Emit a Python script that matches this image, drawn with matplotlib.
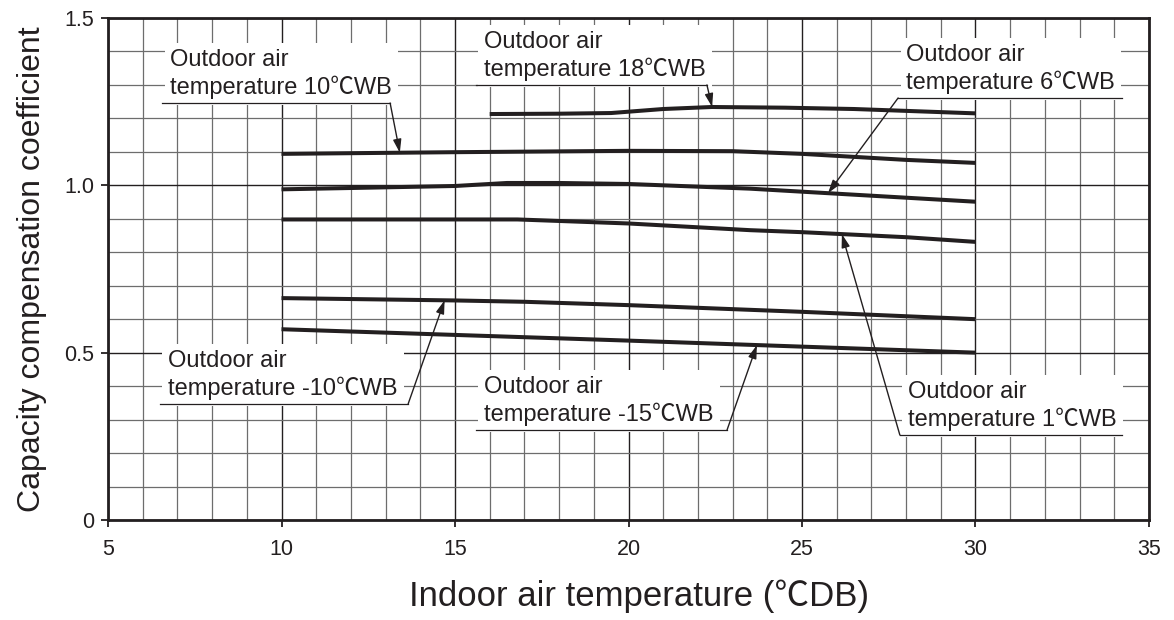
import numpy as np
import matplotlib

matplotlib.use("Agg")
import matplotlib.pyplot as plt

plt.rcParams["font.family"] = ["Liberation Sans", "Noto Sans CJK JP", "DejaVu Sans"]

INK = "#231f20"

# capacity coefficient vs indoor air temperature, one curve per outdoor temp
x_18 = [16, 18, 19.5, 21, 22.4, 24.5, 26.5, 30]
y_18 = [1.213, 1.214, 1.216, 1.228, 1.234, 1.232, 1.228, 1.215]

x_10 = [10, 15, 20, 23, 25, 28, 30]
y_10 = [1.094, 1.099, 1.103, 1.102, 1.094, 1.076, 1.067]

x_6 = [10, 15, 16.5, 18, 20, 23.5, 25, 28, 30]
y_6 = [0.988, 0.998, 1.007, 1.007, 1.004, 0.990, 0.981, 0.963, 0.951]

x_1 = [10, 16.8, 20, 23.5, 25, 28, 30]
y_1 = [0.898, 0.898, 0.886, 0.866, 0.860, 0.845, 0.831]

x_m10 = [10, 15, 17, 20, 25, 30]
y_m10 = [0.663, 0.656, 0.652, 0.642, 0.622, 0.600]

x_m15 = [10, 15, 20, 25, 30]
y_m15 = [0.570, 0.553, 0.536, 0.518, 0.500]

curves = {
    "18": (x_18, y_18),
    "10": (x_10, y_10),
    "6": (x_6, y_6),
    "1": (x_1, y_1),
    "-10": (x_m10, y_m10),
    "-15": (x_m15, y_m15),
}

# callouts: curve, underline y, underline x0/x1, leader side, arrow tip x
callouts = [
    ("10", 1.246, 6.56, 13.13, "right", 13.41),
    ("18", 1.300, 15.60, 22.26, "right", 22.41),
    ("6", 1.261, 27.77, 34.22, "left", 25.75),
    ("1", 0.254, 27.82, 34.22, "left", 26.15),
    ("-10", 0.347, 6.50, 13.65, "right", 14.70),
    ("-15", 0.269, 15.60, 22.84, "right", 23.70),
]

fig = plt.figure(figsize=(11.74, 6.2), dpi=100)
ax = fig.add_axes([0.092, 0.1613, 0.8867, 0.8097])

ax.set_xlim(5, 35)
ax.set_ylim(0, 1.5)
ax.set_xticks(np.arange(5, 36, 5))
ax.set_xticks(np.arange(5, 36, 1), minor=True)
ax.set_yticks([0, 0.5, 1.0, 1.5])
ax.set_yticklabels(["0", "0.5", "1.0", "1.5"])
ax.set_yticks(np.arange(0, 1.51, 0.1), minor=True)

ax.grid(True, which="minor", color="#6d6d6d", lw=0.9)
ax.grid(True, which="major", color=INK, lw=1.0)
ax.set_axisbelow(True)

ax.tick_params(which="major", direction="out", length=5, width=1.3,
               labelsize=15.5, colors=INK)
ax.tick_params(axis="x", which="major", pad=9)
ax.tick_params(axis="y", which="major", pad=5)
ax.tick_params(which="minor", length=0)
for s in ax.spines.values():
    s.set_linewidth(2.0)
    s.set_color(INK)

for key, (xs, ys) in curves.items():
    ax.plot(xs, ys, color=INK, lw=2.9, solid_capstyle="butt", zorder=3)

for key, uy, x0, x1, side, tip_x in callouts:
    xs, ys = curves[key]
    tip_y = np.interp(tip_x, xs, ys)
    ax.annotate(f"Outdoor air\ntemperature {key}℃WB", xy=(x0, uy),
                xytext=(6, 3), textcoords="offset points",
                ha="left", va="bottom", fontsize=17, color=INK,
                linespacing=1.25, zorder=4,
                bbox=dict(boxstyle="square,pad=0.25", fc="white", ec="none"))
    ax.plot([x0, x1], [uy, uy], color=INK, lw=0.9, zorder=5)
    start = x1 if side == "right" else x0
    ax.annotate("", xy=(tip_x, tip_y), xytext=(start, uy), zorder=5,
                arrowprops=dict(arrowstyle="-|>,head_length=0.8,head_width=0.25",
                                color=INK, lw=1.0, shrinkA=0, shrinkB=0))

ax.set_xlabel("Indoor air temperature (℃DB)", fontsize=25, color=INK)
ax.xaxis.set_label_coords(0.51, -0.118, transform=ax.transAxes)
ax.xaxis.label.set_va("top")
ax.set_ylabel("Capacity compensation coefficient", fontsize=23, color=INK, labelpad=12)

fig.savefig("out.png", dpi=100)
